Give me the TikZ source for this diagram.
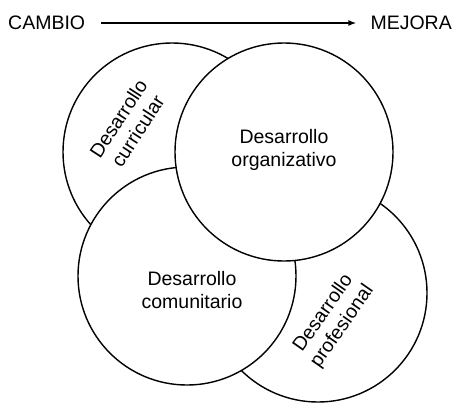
\documentclass[tikz,border=0pt]{standalone}
\usepackage{fontspec}
\setmainfont{Liberation Sans}
\usepackage{tikz}
\usetikzlibrary{arrows.meta}
\tikzset{>={Latex[length=8pt,width=6pt]}}
\tikzset{
  area/.style={draw, circle, fill=white, line width=1.4pt, minimum size=218pt, inner sep=0pt},
  etiq/.style={align=center, inner sep=0pt, font=\fontsize{19.5}{23}\selectfont}
}

\begin{document}
\begin{tikzpicture}[x=1pt,y=-1pt]
            \useasboundingbox (0,0) rectangle (454,402);
            \node[etiq, anchor=west] (cambio) at (8,23) {CAMBIO};
            \node[etiq, anchor=east] (mejora) at (452,23) {MEJORA};
            \draw[->, line width=1.3pt, shorten <=16pt, shorten >=14pt] (cambio.east) -- (mejora.west);

            % circulos, de atras hacia delante
            \node[area] (cur) at (172,152) {};
            \node[area] (pro) at (318,293) {};
            \node[area] (com) at (187,276) {};
            \node[area] (org) at (284,152) {};

            \node[etiq, rotate=57] (tcur) at (128,125) {Desarrollo\\curricular};
            \node[etiq, rotate=55] (tpro) at (333,320) {Desarrollo\\profesional};
            \node[etiq] (tcom) at (192,290) {Desarrollo\\comunitario};
            \node[etiq] (torg) at (284,150) {Desarrollo\\organizativo};
        
        \end{tikzpicture}
\end{document}
